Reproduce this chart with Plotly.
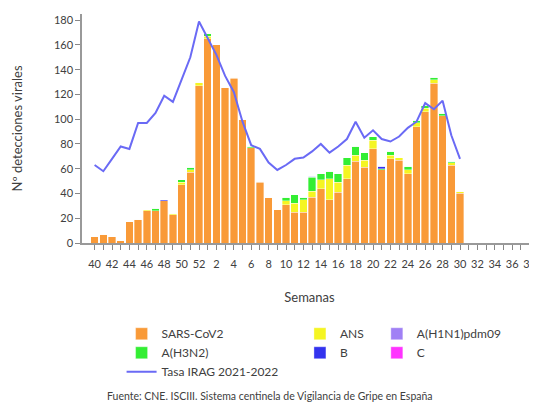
import plotly.graph_objects as go

weeks = [str(w) for w in list(range(40, 53)) + list(range(1, 40))]

sars = [5, 7, 5, 2, 17, 19, 26, 26, 34, 23, 47, 57, 127, 165, 160, 126, 133, 100, 77, 49,
        37, 27, 31, 25, 25, 37, 44, 35, 41, 52, 66, 61, 76, 59, 68, 67, 56, 94, 106, 129,
        103, 63, 40]
ans = [0, 0, 0, 0, 0, 0, 1, 0, 0, 1, 2, 2, 3, 2, 0, 0, 1, 0, 0, 1,
       0, 0, 3, 7, 10, 5, 7, 17, 8, 11, 5, 6, 7, 0, 3, 2, 3, 3, 3, 3,
       0, 2, 2]
h3n2 = [0, 0, 0, 0, 0, 0, 0, 2, 0, 0, 2, 2, 0, 2, 0, 0, 0, 0, 1, 0,
        0, 0, 3, 7, 2, 11, 5, 6, 7, 6, 7, 6, 3, 1, 3, 0, 3, 2, 2, 2,
        2, 1, 0]
b = [0, 0, 0, 0, 0, 0, 0, 0, 1, 0, 0, 0, 0, 0, 0, 0, 0, 0, 0, 0,
     0, 0, 0, 0, 0, 1, 0, 0, 0, 0, 0, 0, 0, 2, 0, 0, 0, 0, 0, 0,
     0, 0, 0]
h1n1 = [0] * 43
c = [0] * 43
irag = [63, 58, 68, 78, 76, 97, 97, 105, 119, 114, 132, 150, 179, 166, 152, 135, 122, 98, 79, 76,
        65, 59, 63, 68, 69, 74, 80, 73, 78, 84, 98, 85, 91, 84, 82, 86, 93, 98, 113, 108,
        115, 87, 68]

x_ticktext = [w if i % 2 == 0 else "" for i, w in enumerate(weeks)]
y_ticks = list(range(0, 181, 20))

FONT = "Lato, 'Open Sans', sans-serif"
TXT = "#404040"

fig = go.Figure()
series = [
    ("SARS-CoV2", sars, "#f99a38", "legend"),
    ("ANS", ans, "#f5f522", "legend2"),
    ("A(H3N2)", h3n2, "#33ee33", "legend"),
    ("B", b, "#3333ee", "legend2"),
    ("A(H1N1)pdm09", h1n1, "#a080f5", "legend3"),
    ("C", c, "#ff33ff", "legend3"),
]
n = len(sars)
for name, vals, col, lg in series:
    fig.add_trace(go.Bar(
        x=weeks[:n], y=vals, name=name, marker_color=col,
        marker_line_color="rgba(255,255,255,0.6)", marker_line_width=0.6,
        legend=lg,
    ))
fig.add_trace(go.Scatter(
    x=weeks[:n], y=irag, name="Tasa IRAG 2021-2022", mode="lines",
    line=dict(color="#6a6af5", width=2), legend="legend",
))

legend_common = dict(
    bgcolor="rgba(0,0,0,0)", font=dict(family=FONT, size=12, color=TXT),
    orientation="v", xanchor="left", yanchor="top", tracegroupgap=0,
    itemclick=False,
)
fig.update_layout(
    width=529, height=400,
    margin=dict(l=74, r=0, t=6, b=165, autoexpand=False),
    paper_bgcolor="white", plot_bgcolor="white",
    barmode="stack", bargap=0.14,
    font=dict(family=FONT, size=11, color=TXT),
    legend=dict(x=0.087, y=-0.333, traceorder="normal", **legend_common),
    legend2=dict(x=0.479, y=-0.333, traceorder="normal", **legend_common),
    legend3=dict(x=0.648, y=-0.333, traceorder="normal", **legend_common),
    xaxis=dict(
        type="category", categoryorder="array", categoryarray=weeks,
        range=[-1.45, 50.85],
        tickmode="array", tickvals=weeks, ticktext=x_ticktext,
        ticks="outside", ticklen=5, tickcolor="#888", tickwidth=1,
        ticklabelstandoff=5,
        showline=True, linecolor="#999", linewidth=1.5,
        showgrid=False, zeroline=False, automargin=False,
        tickfont=dict(family=FONT, size=11, color=TXT),
        title=dict(text="Semanas", standoff=24,
                   font=dict(family=FONT, size=13, color=TXT)),
    ),
    yaxis=dict(
        range=[0, 185],
        tickmode="array", tickvals=y_ticks,
        ticks="outside", ticklen=5, tickcolor="#888", tickwidth=1,
        showline=True, linecolor="#999", linewidth=1.5,
        showgrid=False, zeroline=False, automargin=False,
        tickfont=dict(family=FONT, size=11, color=TXT),
        title=dict(text="Nº detecciones virales", standoff=28,
                   font=dict(family=FONT, size=13, color=TXT)),
    ),
    showlegend=True,
)
fig.add_annotation(
    text="Fuente: CNE. ISCIII. Sistema centinela de Vigilancia de Gripe en España",
    xref="paper", yref="paper", x=0.413, y=-0.668, xanchor="center", yanchor="middle",
    showarrow=False, font=dict(family=FONT, size=10.5, color=TXT),
)

fig.write_html("out.html")
